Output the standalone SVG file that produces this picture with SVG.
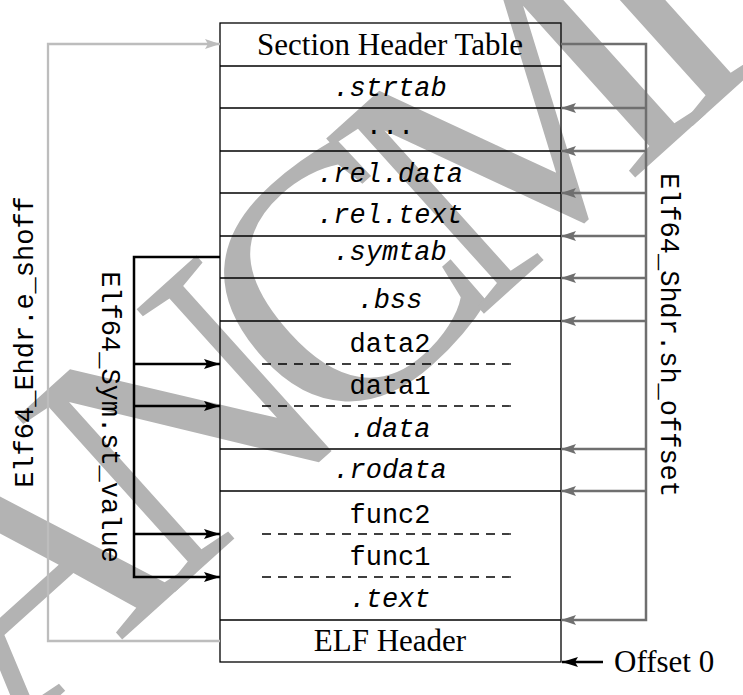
<svg xmlns="http://www.w3.org/2000/svg" width="743" height="695" viewBox="0 0 743 695">
<style>
.cell{fill:none;stroke:#000;stroke-width:1.3}
.sep{stroke:#000;stroke-width:1.3}
.dash{stroke:#000;stroke-width:1.3;stroke-dasharray:9 7}
.serif{font-family:"Liberation Serif","Times New Roman",serif;font-size:31px;fill:#000}
.mono{font-family:"Liberation Mono","Courier New",monospace;font-size:27px;fill:#000}
.it{font-style:italic}
.c{text-anchor:middle}
.gray{fill:none;stroke:#6f6f6f;stroke-width:2.5}
.light{fill:none;stroke:#bdbdbd;stroke-width:2.3}
.blk{fill:none;stroke:#000;stroke-width:2.5}
.wm{font-family:"Liberation Serif","Times New Roman",serif;font-size:360px;fill:#b3b3b3}
</style>
<defs>
<marker id="ag" markerUnits="userSpaceOnUse" markerWidth="16" markerHeight="12" refX="15" refY="6" orient="auto">
<path d="M0,1 L15,6 L0,11 L3,6 z" fill="#6f6f6f"/>
</marker>
<marker id="al" markerUnits="userSpaceOnUse" markerWidth="16" markerHeight="12" refX="15" refY="6" orient="auto">
<path d="M0,1 L15,6 L0,11 L3,6 z" fill="#bdbdbd"/>
</marker>
<marker id="ab" markerUnits="userSpaceOnUse" markerWidth="17" markerHeight="12" refX="16" refY="6" orient="auto">
<path d="M0,1 L16,6 L0,11 L3,6 z" fill="#000"/>
</marker>
</defs>

<g id="watermark">
<text class="wm" transform="translate(5,745) rotate(-42)" letter-spacing="-42">ANCMI</text>
</g>

<g id="elf-layout">
<rect class="cell" x="220" y="23" width="341" height="639"/>
<line class="sep" x1="220" y1="66" x2="561" y2="66"/>
<line class="sep" x1="220" y1="108" x2="561" y2="108"/>
<line class="sep" x1="220" y1="151" x2="561" y2="151"/>
<line class="sep" x1="220" y1="193" x2="561" y2="193"/>
<line class="sep" x1="220" y1="236" x2="561" y2="236"/>
<line class="sep" x1="220" y1="278" x2="561" y2="278"/>
<line class="sep" x1="220" y1="321" x2="561" y2="321"/>
<line class="sep" x1="220" y1="449" x2="561" y2="449"/>
<line class="sep" x1="220" y1="491" x2="561" y2="491"/>
<line class="sep" x1="220" y1="620" x2="561" y2="620"/>
</g>

<g id="shtab"><text class="serif c" x="390" y="55">Section Header Table</text></g>
<g id="strtab"><text class="mono it c" x="390" y="96">.strtab</text></g>
<g id="dots"><text class="mono c" x="390" y="134">...</text></g>
<g id="reldata"><text class="mono it c" x="390" y="182">.rel.data</text></g>
<g id="reltext"><text class="mono it c" x="390" y="223">.rel.text</text></g>
<g id="symtab"><text class="mono it c" x="390" y="260">.symtab</text></g>
<g id="bss"><text class="mono it c" x="390" y="308">.bss</text></g>
<g id="data">
<text class="mono c" x="390" y="352">data2</text>
<line class="dash" x1="262" y1="364" x2="518" y2="364"/>
<text class="mono c" x="390" y="394">data1</text>
<line class="dash" x1="262" y1="406" x2="518" y2="406"/>
<text class="mono it c" x="390" y="437">.data</text>
</g>
<g id="rodata"><text class="mono it c" x="390" y="478">.rodata</text></g>
<g id="text">
<text class="mono c" x="390" y="523">func2</text>
<line class="dash" x1="262" y1="534" x2="518" y2="534"/>
<text class="mono c" x="390" y="565">func1</text>
<line class="dash" x1="262" y1="577" x2="518" y2="577"/>
<text class="mono it c" x="390" y="607">.text</text>
</g>
<g id="elfheader"><text class="serif c" x="390" y="651">ELF Header</text></g>

<g id="connectors">
<path class="light" d="M220,641 H48 V44 H220" marker-end="url(#al)"/>
<path class="gray" d="M561,44 H646 V620 H561" marker-end="url(#ag)"/>
<line class="gray" x1="646" y1="108" x2="561" y2="108" marker-end="url(#ag)"/>
<line class="gray" x1="646" y1="151" x2="561" y2="151" marker-end="url(#ag)"/>
<line class="gray" x1="646" y1="193" x2="561" y2="193" marker-end="url(#ag)"/>
<line class="gray" x1="646" y1="236" x2="561" y2="236" marker-end="url(#ag)"/>
<line class="gray" x1="646" y1="278" x2="561" y2="278" marker-end="url(#ag)"/>
<line class="gray" x1="646" y1="321" x2="561" y2="321" marker-end="url(#ag)"/>
<line class="gray" x1="646" y1="449" x2="561" y2="449" marker-end="url(#ag)"/>
<line class="gray" x1="646" y1="491" x2="561" y2="491" marker-end="url(#ag)"/>
<path class="blk" d="M220,257 H134 V577 H220" marker-end="url(#ab)"/>
<line class="blk" x1="134" y1="364" x2="220" y2="364" marker-end="url(#ab)"/>
<line class="blk" x1="134" y1="406" x2="220" y2="406" marker-end="url(#ab)"/>
<line class="blk" x1="134" y1="534" x2="220" y2="534" marker-end="url(#ab)"/>
<line class="blk" x1="603" y1="662" x2="562" y2="662" stroke-width="2.2" marker-end="url(#ab)"/>
</g>

<g id="labels">
<text class="mono c" transform="translate(33,342) rotate(-90)">Elf64_Ehdr.e_shoff</text>
<text class="mono c" transform="translate(102,417) rotate(90)">Elf64_Sym.st_value</text>
<text class="mono c" transform="translate(661,335) rotate(90)" font-size="28">Elf64_Shdr.sh_offset</text>
<text class="serif" x="614" y="672">Offset 0</text>
</g>
</svg>
